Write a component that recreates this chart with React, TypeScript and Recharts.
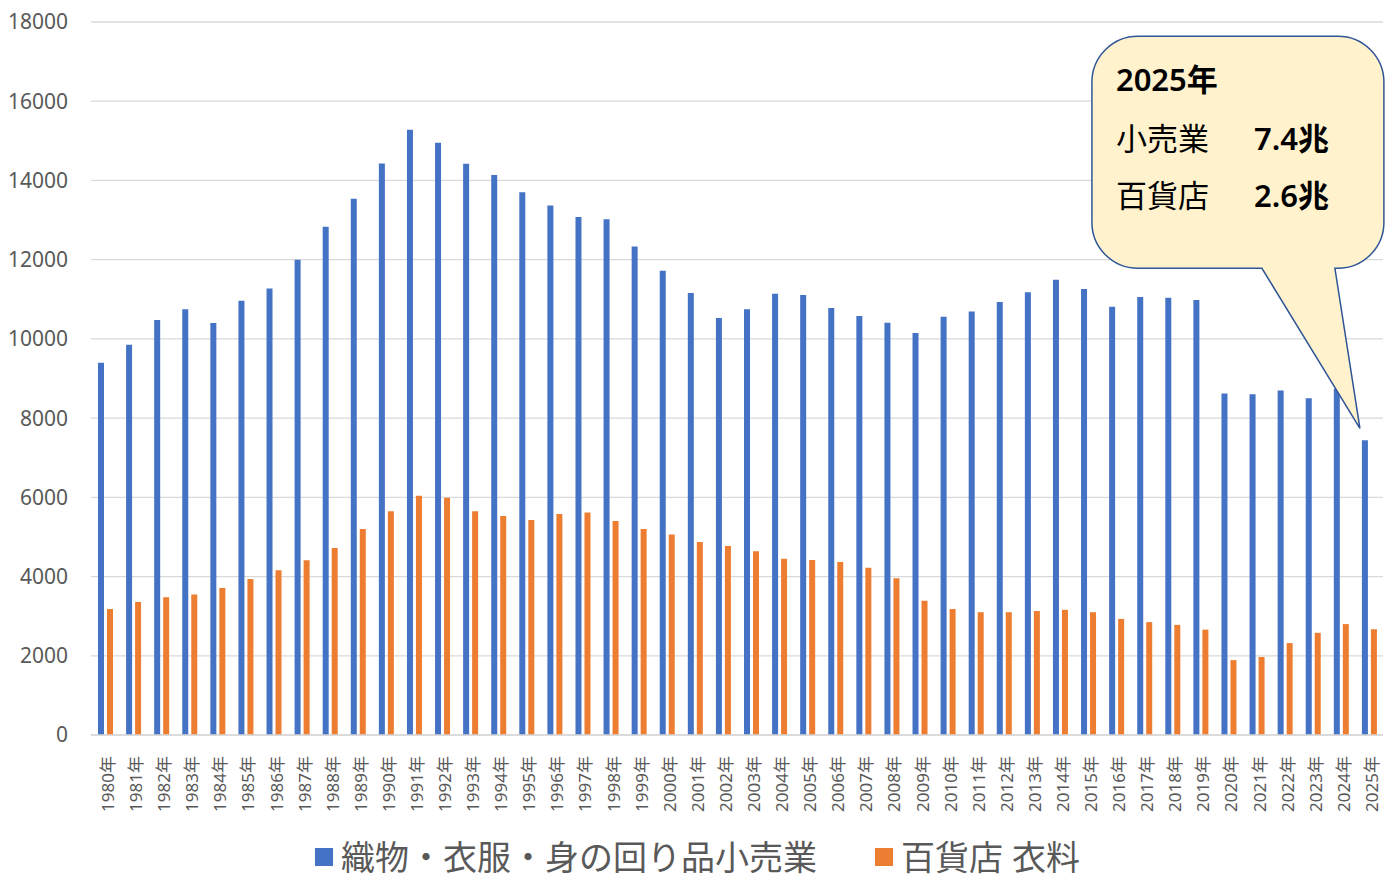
import React from 'react';
import {
  BarChart,
  Bar,
  XAxis,
  YAxis,
  CartesianGrid,
  Legend,
  LabelList,
} from 'recharts';

const YEARS = [
  '1980年', '1981年', '1982年', '1983年', '1984年', '1985年', '1986年', '1987年',
  '1988年', '1989年', '1990年', '1991年', '1992年', '1993年', '1994年', '1995年',
  '1996年', '1997年', '1998年', '1999年', '2000年', '2001年', '2002年', '2003年',
  '2004年', '2005年', '2006年', '2007年', '2008年', '2009年', '2010年', '2011年',
  '2012年', '2013年', '2014年', '2015年', '2016年', '2017年', '2018年', '2019年',
  '2020年', '2021年', '2022年', '2023年', '2024年', '2025年',
];

// 織物・衣服・身の回り品小売業
const RETAIL = [
  9400, 9850, 10480, 10750, 10400, 10960, 11270, 12000, 12830, 13540,
  14430, 15280, 14950, 14420, 14140, 13700, 13370, 13080, 13020, 12330,
  11720, 11160, 10530, 10750, 11140, 11110, 10780, 10580, 10410, 10150,
  10560, 10690, 10930, 11180, 11490, 11260, 10810, 11060, 11040, 10980,
  8620, 8600, 8700, 8500, 8740, 7440,
];

// 百貨店 衣料
const DEPT = [
  3180, 3360, 3480, 3550, 3710, 3940, 4160, 4410, 4720, 5200,
  5650, 6040, 5990, 5650, 5530, 5430, 5580, 5620, 5400, 5200,
  5060, 4870, 4770, 4640, 4450, 4420, 4370, 4220, 3960, 3390,
  3180, 3100, 3100, 3130, 3160, 3100, 2930, 2850, 2780, 2660,
  1890, 1970, 2320, 2580, 2800, 2670,
];

const Y_TICKS = [0, 2000, 4000, 6000, 8000, 10000, 12000, 14000, 16000, 18000];

const SERIES_NAMES = ['織物・衣服・身の回り品小売業', '百貨店 衣料'];

const BLUE = '#4472C4';
const ORANGE = '#ED7D31';
const GRID = '#D9D9D9';
const TEXT = '#595959';
const FONT = '"Noto Sans", "Noto Sans CJK JP", sans-serif';

const data = YEARS.map((year, i) => ({ year, retail: RETAIL[i], dept: DEPT[i] }));

function YearTick({ x, y, payload }: any) {
  return (
    <text
      x={x + 3}
      y={y + 13}
      transform={`rotate(-90, ${x + 3}, ${y + 13})`}
      textAnchor="end"
      dy="0.35em"
      fill={TEXT}
      fontSize={17}
      fontFamily={FONT}
    >
      {payload.value}
    </text>
  );
}

function LegendBox() {
  const items = [
    { name: SERIES_NAMES[0], color: BLUE },
    { name: SERIES_NAMES[1], color: ORANGE },
  ];
  return (
    <div
      style={{
        display: 'flex',
        justifyContent: 'center',
        alignItems: 'center',
        gap: 58,
        height: 50,
        fontFamily: FONT,
        fontSize: 34,
        color: TEXT,
        paddingLeft: 12,
      }}
    >
      {items.map((it) => (
        <div key={it.name} style={{ display: 'flex', alignItems: 'center' }}>
          <span
            style={{
              display: 'inline-block',
              width: 18,
              height: 18,
              background: it.color,
              marginRight: 8,
            }}
          />
          <span style={{ lineHeight: '50px' }}>{it.name}</span>
        </div>
      ))}
    </div>
  );
}

// callout balloon pointing at the last retail bar
function Callout(props: any) {
  const { x, y, width, index } = props;
  if (index !== YEARS.length - 1) return null;
  const tx = x + width / 2 - 5;
  const ty = y - 12;
  const L = tx - 268;
  const R = tx + 24;
  const T = ty - 392;
  const B = ty - 160;
  const r = 46;
  const d = [
    `M ${L + r} ${T}`,
    `H ${R - r}`,
    `A ${r} ${r} 0 0 1 ${R} ${T + r}`,
    `V ${B - r}`,
    `A ${r} ${r} 0 0 1 ${R - r} ${B}`,
    `H ${tx - 25}`,
    `L ${tx} ${ty}`,
    `L ${tx - 98} ${B}`,
    `H ${L + r}`,
    `A ${r} ${r} 0 0 1 ${L} ${B - r}`,
    `V ${T + r}`,
    `A ${r} ${r} 0 0 1 ${L + r} ${T}`,
    'Z',
  ].join(' ');
  const tl = L + 24;
  const vl = L + 162;
  return (
    <g fontFamily={FONT} fontSize={31} fill="#000">
      <path d={d} fill="#FFF2CC" stroke="#2F5597" strokeWidth={1.5} />
      <text x={tl} y={T + 55} fontWeight={600}>2025年</text>
      <text x={tl} y={T + 114}>小売業</text>
      <text x={vl} y={T + 114} fontWeight={600}>7.4兆</text>
      <text x={tl} y={T + 171}>百貨店</text>
      <text x={vl} y={T + 171} fontWeight={600}>2.6兆</text>
    </g>
  );
}

export default function App() {
  return (
    <div style={{ position: 'absolute', left: 0, top: 0, width: 1400, height: 884, background: '#fff' }}>
      <BarChart
        width={1400}
        height={884}
        data={data}
        margin={{ top: 22, right: 17, left: 0, bottom: 2 }}
        barSize={6}
        barGap={3}
      >
        <CartesianGrid vertical={false} stroke={GRID} strokeWidth={1.3} />
        <XAxis
          dataKey="year"
          interval={0}
          height={97}
          tick={<YearTick />}
          tickLine={false}
          axisLine={{ stroke: GRID, strokeWidth: 1.3 }}
        />
        <YAxis
          width={91}
          domain={[0, 18000]}
          ticks={Y_TICKS}
          interval={0}
          axisLine={false}
          tickLine={false}
          tickSize={0}
          tickMargin={23}
          tick={{ fill: TEXT, fontSize: 21, fontFamily: FONT }}
        />
        <Legend verticalAlign="bottom" content={<LegendBox />} />
        <Bar dataKey="retail" name={SERIES_NAMES[0]} fill={BLUE} isAnimationActive={false}>
          <LabelList dataKey="retail" content={<Callout />} />
        </Bar>
        <Bar dataKey="dept" name={SERIES_NAMES[1]} fill={ORANGE} isAnimationActive={false} />
      </BarChart>
    </div>
  );
}
